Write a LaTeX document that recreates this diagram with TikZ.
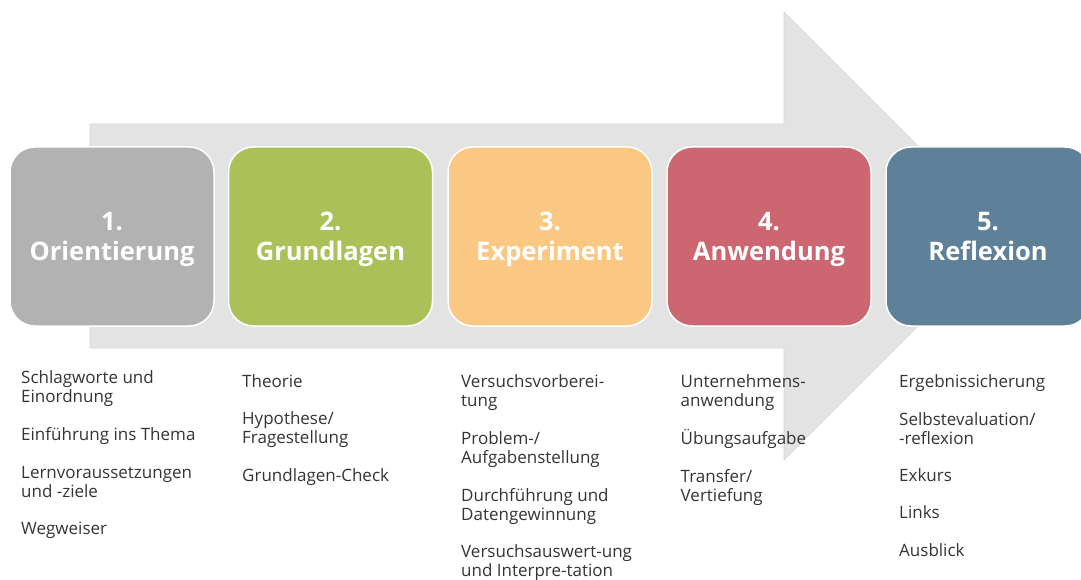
\documentclass[tikz,border=0pt]{standalone}
\usepackage{fontspec}
\setmainfont{Open Sans}
\definecolor{arrowgray}{RGB}{227,227,227}
\definecolor{arrowedge}{RGB}{214,214,214}
\definecolor{phaseA}{RGB}{178,178,178}
\definecolor{phaseB}{RGB}{172,192,90}
\definecolor{phaseC}{RGB}{250,200,130}
\definecolor{phaseD}{RGB}{204,102,113}
\definecolor{phaseE}{RGB}{94,128,153}
\definecolor{textgray}{RGB}{52,52,52}
% two-line phase title with fixed first-line height and last-line depth
\newcommand\phasetitle[2]{\rule{0pt}{24pt}#1\\#2\rule[-7pt]{0pt}{7pt}}
\begin{document}
\begin{tikzpicture}[x=1pt,y=-1pt,
  phase/.style={draw=white, line width=1.5pt, rounded corners=25pt,
    minimum width=204pt, minimum height=179pt, inner sep=0pt,
    text=white, align=center,
    font=\fontsize{25.5}{30}\selectfont\bfseries},
  item/.style={anchor=base west, inner sep=0pt, text=textgray,
    font=\fontsize{17}{19}\selectfont}]
\useasboundingbox (0,0) rectangle (1081,580);
\clip (0,0) rectangle (1081,580);

% background arrow
\filldraw[fill=arrowgray, draw=arrowedge, line width=0.6pt]
  (90,124) -- (784,124) -- (784,12) -- (1008,236) -- (784,460)
  -- (784,348) -- (90,348) -- cycle;

% phase boxes
\node[phase, fill=phaseA] (p1) at (112,236.5)   {\phasetitle{1.}{Orientierung}};
\node[phase, fill=phaseB] (p2) at (330.5,236.5) {\phasetitle{2.}{Grundlagen}};
\node[phase, fill=phaseC] (p3) at (550,236.5)   {\phasetitle{3.}{Experiment}};
\node[phase, fill=phaseD] (p4) at (769,236.5)   {\phasetitle{4.}{Anwendung}};
\node[phase, fill=phaseE] (p5) at (988,236.5)   {\phasetitle{5.}{Reflexion}};

% item lists below each phase
\foreach \y/\t [count=\i] in {383.5/Schlagworte und, 402.5/Einordnung,
    440.5/Einführung ins Thema, 478/Lernvoraussetzungen, 497/und -ziele,
    534.5/Wegweiser}
  \node[item] (a-\i) at (21,\y) {\t};
\foreach \y/\t [count=\i] in {387/Theorie, 424.5/{Hypothese/},
    443.5/Fragestellung, 481/Grundlagen-Check}
  \node[item] (b-\i) at (242,\y) {\t};
\foreach \y/\t [count=\i] in {387.5/Versuchsvorberei-, 406.5/tung,
    444/{Problem-/}, 463/Aufgabenstellung, 501/Durchführung und,
    520/Datengewinnung, 557/Versuchsauswert-ung, 576/und Interpre-tation}
  \node[item] (c-\i) at (461,\y) {\t};
\foreach \y/\t [count=\i] in {387.5/Unternehmens-, 406.5/anwendung,
    444.5/Übungsaufgabe, 482/{Transfer/}, 501/Vertiefung}
  \node[item] (d-\i) at (680.5,\y) {\t};
\foreach \y/\t [count=\i] in {387.5/Ergebnissicherung, 425/{Selbstevaluation/},
    444/-reflexion, 481.5/Exkurs, 518.5/Links, 556/Ausblick}
  \node[item] (e-\i) at (899,\y) {\t};
\end{tikzpicture}
\end{document}
